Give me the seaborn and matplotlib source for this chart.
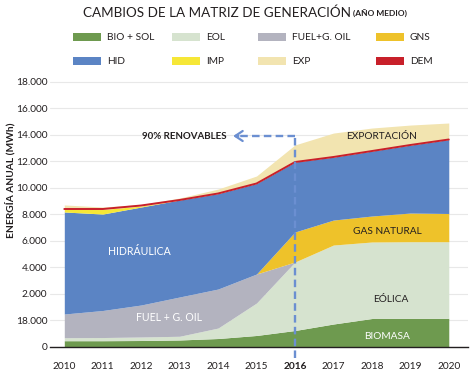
import matplotlib
matplotlib.use("Agg")
import matplotlib.pyplot as plt
import seaborn as sns
import pandas as pd
from matplotlib.patches import Rectangle

# ---- data (axis units, MWh) ----
years = [2010, 2011, 2012, 2013, 2014, 2015, 2016, 2017, 2018, 2019, 2020]
bio = [475, 475, 490, 530, 640, 870, 1245, 1735, 2150, 2165, 2165]
eol = [225, 240, 265, 280, 790, 2450, 5170, 5960, 5775, 5780, 5780]
fuel = [1790, 2040, 2415, 2965, 2945, 2190, 0, 0, 0, 0, 0]
gns = [0, 0, 0, 0, 0, 0, 2265, 1885, 1960, 2165, 2130]
hid = [7700, 7280, 7395, 7320, 7205, 6830, 5285, 4755, 4905, 5130, 5585]
imp = [190, 340, 75, 0, 0, 0, 0, 0, 0, 0, 0]
exp_ = [340, 190, 110, 150, 340, 565, 1285, 1810, 1735, 1510, 1245]
dem = [10415, 10415, 10680, 11095, 11585, 12340, 13960, 14340, 14790, 15245, 15660]

ytick_vals = [0, 2000, 4000, 6000, 8000, 10000, 12000, 14000, 16000, 18000, 20000]
ytick_labels = ["0", "18.000", "2.000", "4.000", "6.000", "8.000", "10.000",
                "12.000", "14.000", "16.000", "18.000"]
year_labels = [str(y) for y in years]

legend_names = ["BIO + SOL", "EOL", "FUEL+G. OIL", "GNS", "HID", "IMP", "EXP", "DEM"]

c_bio, c_eol, c_fuel, c_gns = "#6e9a4f", "#d6e3cf", "#b3b3bf", "#eec22a"
c_hid, c_imp, c_exp, c_dem = "#5b84c4", "#f6e737", "#f2e4b0", "#c8202a"

sns.set_theme(style="white")
plt.rcParams["font.family"] = ["Lato", "DejaVu Sans"]
txt = "#231f20"

W, H = 470, 373
fig = plt.figure(figsize=(4.7, 3.73), dpi=100)
ax = fig.add_axes([50 / W, 1 - 347 / H, (468 - 50) / W, (347 - 75) / H])

ax.stackplot(years, bio, eol, fuel, gns, hid, imp, exp_,
             colors=[c_bio, c_eol, c_fuel, c_gns, c_hid, c_imp, c_exp],
             linewidth=0, zorder=2)
df = pd.DataFrame({"year": years, "dem": dem})
sns.lineplot(data=df, x="year", y="dem", color=c_dem, lw=1.4, ax=ax, zorder=3)

ax.set_xlim(2009.628, 2020.346)
ax.set_ylim(0, 20528)
ax.set_xlabel("")
ax.set_ylabel("")

# y axis
ax.set_yticks(ytick_vals)
ax.set_yticklabels(ytick_labels, fontsize=7.3, color=txt)
ax.tick_params(axis="y", length=0, pad=2)
ax.yaxis.grid(True, color="#e8e8e8", lw=0.8, zorder=0)
ax.set_axisbelow(True)

# x axis
ax.set_xticks(years)
ax.set_xticklabels(year_labels, fontsize=7.3, color=txt)
ax.tick_params(axis="x", which="major", length=0, pad=11)
ax.set_xticks([2009.64] + [y + 0.5 for y in years], minor=True)
ax.tick_params(axis="x", which="minor", length=4, width=0.9, color=txt, direction="out")
for lab in ax.get_xticklabels():
    if lab.get_text() == "2016":
        lab.set_fontweight("bold")

for s in ["left", "right", "top"]:
    ax.spines[s].set_visible(False)
ax.spines["bottom"].set_color(txt)
ax.spines["bottom"].set_linewidth(1.0)
ax.spines["bottom"].set_zorder(5)

# in-chart labels
ax.text(2011.96, 7170, "HIDRÁULICA", color="white", fontsize=7.6, ha="center", va="center", zorder=6)
ax.text(2012.73, 2190, "FUEL + G. OIL", color="white", fontsize=7.6, ha="center", va="center", zorder=6)
ax.text(2018.24, 15850, "EXPORTACIÓN", color=txt, fontsize=7.3, ha="center", va="center", zorder=6)
ax.text(2018.40, 8680, "GAS NATURAL", color=txt, fontsize=7.3, ha="center", va="center", zorder=6)
ax.text(2018.50, 3620, "EÓLICA", color=txt, fontsize=7.3, ha="center", va="center", zorder=6)
ax.text(2018.40, 755, "BIOMASA", color="white", fontsize=7.3, ha="center", va="center", zorder=6)

# 90% renovables arrow
yarr = 15924
dash_c = "#6b8fd1"
ax.plot([2016, 2016], [-800, yarr], ls=(0, (3.2, 1.8)), color=dash_c, lw=1.7,
        clip_on=False, zorder=7)
ax.plot([2016, 2014.45], [yarr, yarr], ls=(0, (3.2, 1.8)), color=dash_c, lw=1.7,
        clip_on=False, zorder=7)
ax.annotate("", xy=(2014.32, yarr), xytext=(2014.6, yarr),
            arrowprops=dict(arrowstyle="->,head_length=0.45,head_width=0.3",
                            color=dash_c, lw=1.6), zorder=7)
ax.text(2014.22, yarr, "90% RENOVABLES", color=txt, fontsize=7.0, fontweight="bold",
        ha="right", va="center", zorder=7)

# y label
fig.text(10 / W, 1 - 180 / H, "ENERGÍA ANUAL (MWh)", rotation=90, fontsize=7.3,
         fontweight="bold", color=txt, ha="center", va="center")

# title
t1 = fig.text(83 / W, 1 - 13 / H, "CAMBIOS DE LA MATRIZ DE GENERACIÓN", fontsize=9.7,
              color=txt, ha="left", va="center")
fig.canvas.draw()
bb = t1.get_window_extent()
fig.text((bb.x1 + 2) / W, 1 - 14 / H, "(AÑO MEDIO)", fontsize=6.0, fontweight="bold",
         color=txt, ha="left", va="center")

# manual legend
leg_colors = [c_bio, c_eol, c_fuel, c_gns, c_hid, c_imp, c_exp, c_dem]
col_x = [73, 172, 258, 376]
row_y = [37, 61]
for i, (name, col) in enumerate(zip(legend_names, leg_colors)):
    r, c = divmod(i, 4)
    x0 = col_x[c]
    yc = row_y[r]
    fig.add_artist(Rectangle((x0 / W, 1 - (yc + 4) / H), 28 / W, 8 / H,
                             transform=fig.transFigure, color=col, lw=0))
    fig.text((x0 + 34) / W, 1 - yc / H, name, fontsize=7.3, color=txt,
             ha="left", va="center")

fig.savefig("out.png", dpi=100)
